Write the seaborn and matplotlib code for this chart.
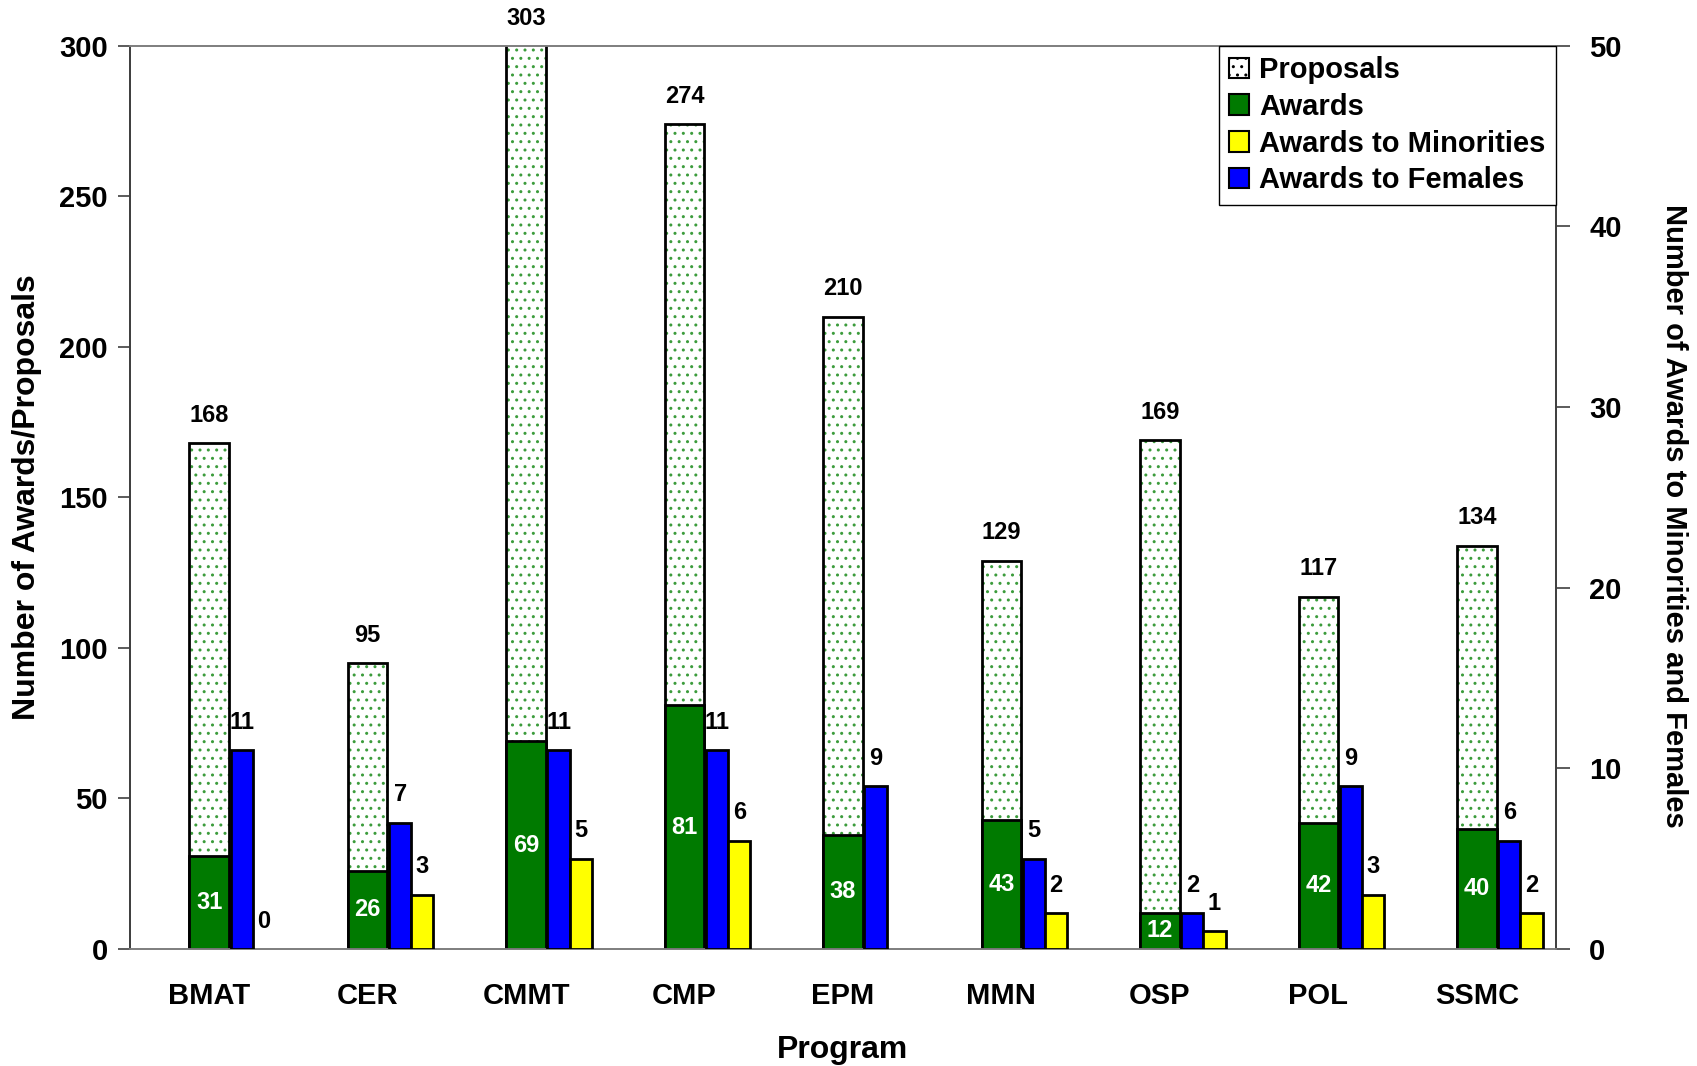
import numpy as np
import pandas as pd
import matplotlib
matplotlib.use("Agg")
import matplotlib.pyplot as plt
from matplotlib.patches import Patch
import seaborn as sns

programs = ["BMAT", "CER", "CMMT", "CMP", "EPM", "MMN", "OSP", "POL", "SSMC"]
proposals = [168, 95, 303, 274, 210, 129, 169, 117, 134]
awards = [31, 26, 69, 81, 38, 43, 12, 42, 40]
awards_females = [11, 7, 11, 11, 9, 5, 2, 9, 6]
awards_minorities = [0, 3, 5, 6, np.nan, 2, 1, 3, 2]

sns.set_theme(style="white")
plt.rcParams["font.family"] = ["Liberation Sans", "DejaVu Sans"]
plt.rcParams["font.weight"] = "bold"
for key in ("text.color", "axes.labelcolor", "xtick.color", "ytick.color"):
    plt.rcParams[key] = "black"

GREEN = "#007a00"
DOT_GREEN = "#3c9c3c"
BLUE = "#0000ff"
YELLOW = "#ffff00"

idx = np.arange(len(programs))
df = pd.DataFrame({
    "program": programs,
    "pos": idx.astype(float),
    "Proposals": proposals,
    "Awards": awards,
    "Females": awards_females,
    "Minorities": awards_minorities,
})
df["pos_f"] = df["pos"] + 0.205
df["pos_m"] = df["pos"] + 0.345

fig = plt.figure(figsize=(16.97, 10.66), dpi=100)
ax = fig.add_axes([0.0766, 0.1098, 0.9169 - 0.0766, 0.957 - 0.1098])
ax2 = ax.twinx()

YMAX = 300
Y2MAX = 50

# proposals: dotted fill, then a black outline on top
common = dict(native_scale=True, errorbar=None, saturation=1, ax=ax)
sns.barplot(data=df, x="pos", y="Proposals", width=0.25, color="white",
            edgecolor=DOT_GREEN, linewidth=0, hatch="..", zorder=2, **common)
sns.barplot(data=df, x="pos", y="Proposals", width=0.25, fill=False,
            color="black", linewidth=2, zorder=3, **common)
sns.barplot(data=df, x="pos", y="Awards", width=0.25, color=GREEN,
            edgecolor="black", linewidth=2, zorder=4, **common)

common2 = dict(native_scale=True, errorbar=None, saturation=1, ax=ax2)
sns.barplot(data=df, x="pos_f", y="Females", width=0.14, color=BLUE,
            edgecolor="black", linewidth=2, zorder=3, **common2)
sns.barplot(data=df[df["Minorities"] > 0], x="pos_m", y="Minorities", width=0.14,
            color=YELLOW, edgecolor="black", linewidth=2, zorder=3, **common2)

for a in (ax, ax2):
    a.set_xlim(-0.5, len(programs) - 0.5)
ax.set_ylim(0, YMAX)
ax2.set_ylim(0, Y2MAX)
ax.set_yticks(np.arange(0, YMAX + 1, 50))
ax2.set_yticks(np.arange(0, Y2MAX + 1, 10))

# value labels
lab_kw = dict(textcoords="offset points", ha="center", va="center",
              fontsize=17, fontweight="bold", annotation_clip=False)
for x, v in zip(df["pos"], proposals):
    ax.annotate(f"{v}", (x, min(v, YMAX)), xytext=(0, 20), color="black", **lab_kw)
for x, v in zip(df["pos"], awards):
    ax.annotate(f"{v}", (x, v / 2), xytext=(0, 0), color="white", zorder=6, **lab_kw)
for x, v in zip(df["pos_f"], awards_females):
    ax2.annotate(f"{v}", (x, v), xytext=(0, 20), color="black", **lab_kw)
for x, v in zip(df["pos_m"], awards_minorities):
    if not np.isnan(v):
        ax2.annotate(f"{int(v)}", (x, v), xytext=(0, 20), color="black", **lab_kw)

# axes styling
ax.set_xticks(idx)
ax.set_xticklabels(programs, fontsize=21, fontweight="bold")
ax.set_xticks(np.arange(-0.5, len(programs), 1), minor=True)
ax.tick_params(axis="x", which="major", length=0, pad=24)
ax.tick_params(axis="x", which="minor", length=10, width=1.2, color="#808080", direction="out")
ax2.tick_params(axis="x", which="both", length=0)
ax.tick_params(axis="y", length=9, width=1.2, color="#404040", direction="out",
               pad=7, labelsize=21, left=True)
ax2.tick_params(axis="y", length=10, width=1.2, color="#404040", direction="out",
                pad=14, labelsize=21, right=True)
for lab in ax.get_yticklabels() + ax2.get_yticklabels():
    lab.set_fontweight("bold")

for a in (ax, ax2):
    for s in a.spines.values():
        s.set_visible(True)
        s.set_linewidth(1.3)
    a.spines["top"].set_color("#808080")
    a.spines["bottom"].set_color("#808080")
    a.spines["left"].set_color("#404040")
    a.spines["right"].set_color("#404040")
    a.grid(False)

ax.set_xlabel("Program", fontsize=23, fontweight="bold", labelpad=18)
ax.set_ylabel("Number of Awards/Proposals", fontsize=23, fontweight="bold", labelpad=12)
ax2.set_ylabel("Number of Awards to Minorities and Females", fontsize=21,
               fontweight="bold", rotation=270, labelpad=48)
ax2.yaxis.label.set_y(0.48)

handles = [
    Patch(facecolor="white", edgecolor="black", hatch="..", linewidth=1.5, label="Proposals"),
    Patch(facecolor=GREEN, edgecolor="black", linewidth=1.5, label="Awards"),
    Patch(facecolor=YELLOW, edgecolor="black", linewidth=1.5, label="Awards to Minorities"),
    Patch(facecolor=BLUE, edgecolor="black", linewidth=1.5, label="Awards to Females"),
]
leg = ax2.legend(handles=handles, loc="upper right", bbox_to_anchor=(1, 1),
                 borderaxespad=0, frameon=True, fancybox=False, framealpha=1,
                 edgecolor="black", handlelength=0.7, handleheight=0.7,
                 handletextpad=0.35, labelspacing=0.3, borderpad=0.35,
                 prop={"size": 21, "weight": "bold"})
leg.get_frame().set_linewidth(1.0)
leg.set_zorder(10)

fig.savefig("out.png", dpi=100)
